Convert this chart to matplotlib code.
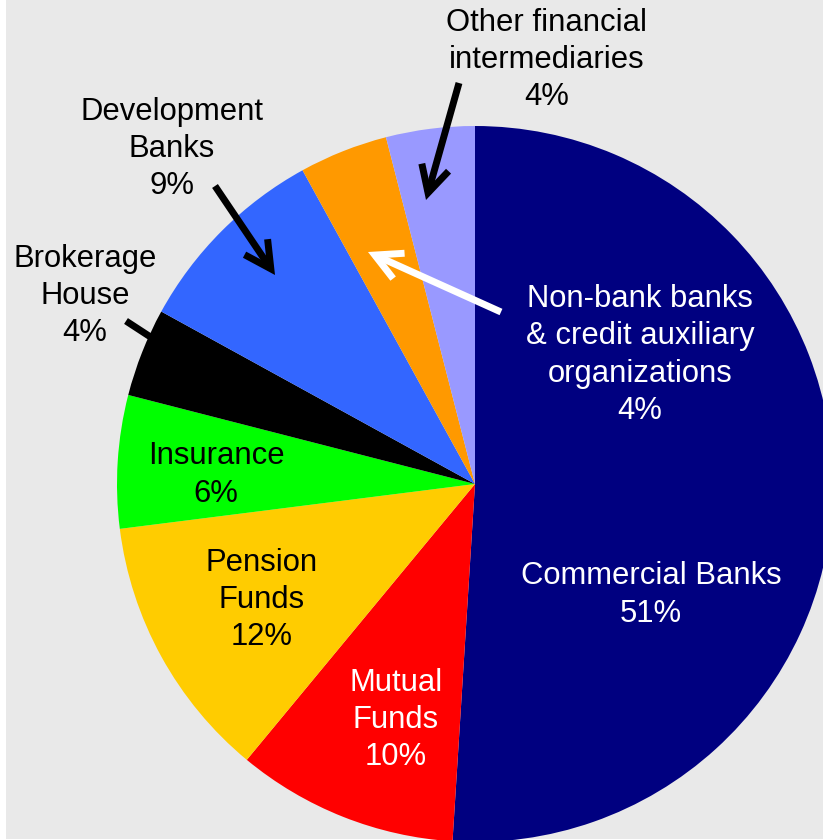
import matplotlib
matplotlib.use("Agg")
from matplotlib import pyplot as plt

plt.rcParams["font.family"] = ["Liberation Sans", "DejaVu Sans"]

# shares of financial system assets, clockwise from 12 o'clock
categories = [
    "Commercial Banks",
    "Mutual Funds",
    "Pension Funds",
    "Insurance",
    "Brokerage House",
    "Development Banks",
    "Non-bank banks & credit auxiliary organizations",
    "Other financial intermediaries",
]
shares = [51, 10, 12, 6, 4, 9, 4, 4]
colors = ["#000080", "#FF0000", "#FFCC00", "#00FF00", "#000000",
          "#3366FF", "#FF9900", "#9999FF"]

W, H = 823, 840
BG = "#E9E9E9"
CX, CY, R = 475, H - 484, 358

fig = plt.figure(figsize=(W / 100, H / 100), dpi=100, facecolor="white")
ax = fig.add_axes([6 / W, 1 / H, (W - 6) / W, (H - 1) / H])

ax.pie(shares, colors=colors, startangle=90, counterclock=False,
       center=(CX, CY), radius=R, wedgeprops=dict(linewidth=0))

ax.set_xlim(6, W)
ax.set_ylim(1, H)
ax.set_aspect("equal")
ax.set_frame_on(True)
ax.set_facecolor(BG)
for sp in ax.spines.values():
    sp.set_visible(False)
ax.set_xticks([])
ax.set_yticks([])

FS = 22.3


def label(x, y, s, color="black"):
    ax.text(x, H - y, s, ha="center", va="center", fontsize=FS,
            color=color, linespacing=1.32, zorder=6)


def arrow(tail, tip, color="black"):
    ax.annotate("", xy=(tip[0], H - tip[1]), xytext=(tail[0], H - tail[1]),
                arrowprops=dict(arrowstyle="->,head_length=1.9,head_width=1.0",
                                lw=5, color=color, shrinkA=0, shrinkB=0,
                                capstyle="butt", joinstyle="miter"),
                zorder=5)


label(547, 60, "Other financial\nintermediaries\n4%")
label(172, 149, "Development\nBanks\n9%")
label(85, 296, "Brokerage\nHouse\n4%")
label(640, 355, "Non-bank banks\n& credit auxiliary\norganizations\n4%", "white")
label(216, 475, "Insurance\n6%")
label(262, 600, "Pension\nFunds\n12%")
label(396, 720, "Mutual\nFunds\n10%", "white")
label(651, 595, "Commercial Banks\n51%", "white")

arrow((459, 83), (426, 200))
arrow((215, 186), (275, 275))
arrow((126, 321), (195, 366))
arrow((501, 312), (368, 252), "white")

fig.savefig("out.png", dpi=100, facecolor=fig.get_facecolor())
